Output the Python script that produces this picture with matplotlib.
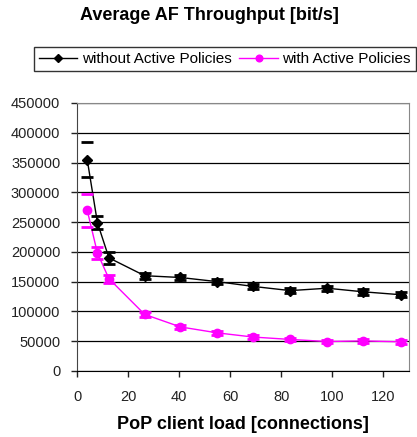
import matplotlib.pyplot as plt

plt.rcParams['font.family'] = ['Liberation Sans', 'DejaVu Sans']

# PoP client load [connections]
load = [4, 8, 12.5, 26.5, 40.5, 55, 69, 83.5, 98, 112, 127]

# average AF throughput [bit/s]
without_ap = [355000, 249000, 190000, 160000, 157000, 150000, 142000, 135000, 139000, 133000, 128000]
without_ap_err = [30000, 11000, 10000, 5000, 5000, 4500, 4500, 4500, 4500, 5000, 4500]

with_ap = [270000, 198000, 155000, 95000, 74000, 64000, 57000, 53000, 49500, 50500, 49000]
with_ap_err = [28000, 10000, 7000, 4000, 3500, 3000, 3000, 3000, 3000, 3000, 3000]

fig = plt.figure(figsize=(4.17, 4.37), dpi=100)
ax = fig.add_axes([77 / 417, (437 - 371) / 437, (409 - 77) / 417, (371 - 103) / 437])

black = 'black'
magenta = '#ff00ff'

ax.plot(load, without_ap, color=black, marker='D', markersize=5, linewidth=1,
        label='without Active Policies', zorder=3)
ax.plot(load, with_ap, color=magenta, marker='o', markersize=6, linewidth=1,
        label='with Active Policies', zorder=3)

# error bars drawn as caps only, like the original
for y, err, c in [(without_ap, without_ap_err, black), (with_ap, with_ap_err, magenta)]:
    eb = ax.errorbar(load, y, yerr=err, fmt='none', ecolor=c, capsize=4.5, capthick=2, zorder=4)
    for col in eb.lines[2]:
        col.set_visible(False)

ax.set_xlim(0, 130)
ax.set_ylim(0, 450000)
ax.set_xticks(range(0, 121, 20))
ax.set_yticks(range(0, 450001, 50000))
ax.yaxis.grid(True, color='black', linewidth=0.9)
ax.set_axisbelow(True)
ax.tick_params(labelsize=10.5, length=4, width=1, colors='#222222')
ax.tick_params(axis='x', pad=10)
ax.tick_params(axis='y', pad=8)
for side in ['top', 'right']:
    ax.spines[side].set_color('#888888')
ax.spines['left'].set_color('#444444')
ax.spines['bottom'].set_color('black')

ax.set_xlabel('PoP client load [connections]', fontsize=13, fontweight='bold', labelpad=8)
fig.text(0.503, 0.965, 'Average AF Throughput [bit/s]', ha='center', va='center',
         fontsize=13, fontweight='bold')

leg = fig.legend(loc='center', bbox_to_anchor=(225 / 417, 1 - 59 / 437), ncol=2, fontsize=11,
                 frameon=True, fancybox=False, edgecolor='black', handlelength=2.5,
                 handletextpad=0.3, columnspacing=0.5, borderpad=0.35, markerscale=0.8)
leg.get_frame().set_linewidth(1)

fig.savefig('out.png', dpi=100)
